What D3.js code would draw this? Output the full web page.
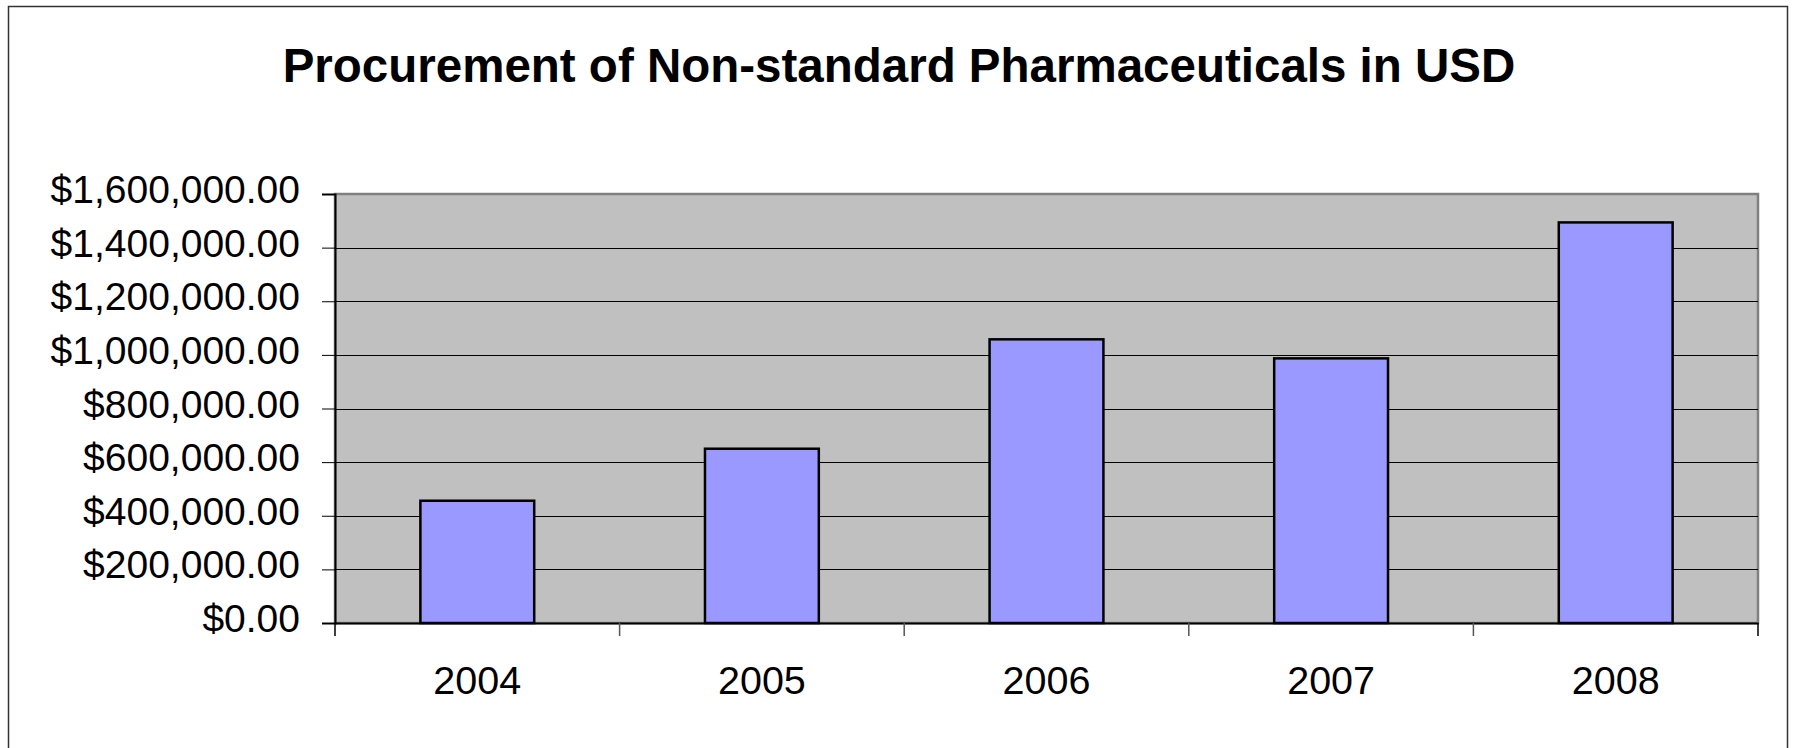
<!DOCTYPE html>
<html>
<head>
<meta charset="utf-8">
<title>Procurement of Non-standard Pharmaceuticals in USD</title>
<script src="https://d3js.org/d3.v7.min.js"></script>
<style>
body { margin: 0; background: #fff; }
text { font-family: "Liberation Sans", Arial, sans-serif; fill: #000; }
.axis text { font-size: 39px; }
.axis--x text { font-size: 39.5px; }
</style>
</head>
<body>
<svg width="1795" height="748"></svg>
<script>
var years = ["2004", "2005", "2006", "2007", "2008"];
var amounts = [456000, 650000, 1058000, 987000, 1494000];
var yTicks = [0, 200000, 400000, 600000, 800000, 1000000, 1200000, 1400000, 1600000];

var svg = d3.select("svg"),
    plot = {left: 335, top: 194, right: 1758, bottom: 623};

// chart frame
svg.append("rect")
    .attr("x", 8.5).attr("y", 6.5)
    .attr("width", 1779).attr("height", 760)
    .attr("fill", "#fff").attr("stroke", "#333").attr("stroke-width", 1.5);

svg.append("text")
    .attr("x", 899).attr("y", 82)
    .attr("text-anchor", "middle")
    .style("font-size", "47.5px").style("font-weight", "bold")
    .text("Procurement of Non-standard Pharmaceuticals in USD");

var x = d3.scaleBand()
    .domain(years)
    .range([plot.left, plot.right])
    .paddingInner(0.6)
    .paddingOuter(0.3);

var y = d3.scaleLinear()
    .domain([0, 1600000])
    .range([plot.bottom, plot.top]);

var fmt = d3.format("$,.2f");

// plot area background with grey top/right edge
svg.append("rect")
    .attr("x", plot.left).attr("y", plot.top)
    .attr("width", plot.right - plot.left).attr("height", plot.bottom - plot.top)
    .attr("fill", "#c0c0c0").attr("stroke", "#808080").attr("stroke-width", 2.5);

// gridlines
svg.append("g")
  .selectAll("line").data(yTicks.slice(1, -1)).enter().append("line")
    .attr("x1", plot.left).attr("x2", plot.right)
    .attr("y1", function(d) { return Math.round(y(d)) + 0.5; })
    .attr("y2", function(d) { return Math.round(y(d)) + 0.5; })
    .attr("stroke", "#000").attr("stroke-width", 1);

// bars
svg.append("g")
  .selectAll("rect").data(years).enter().append("rect")
    .attr("x", function(d) { return x(d); })
    .attr("y", function(d, i) { return y(amounts[i]); })
    .attr("width", x.bandwidth())
    .attr("height", function(d, i) { return plot.bottom - y(amounts[i]); })
    .attr("fill", "#9999ff")
    .attr("stroke", "#000").attr("stroke-width", 2.5);

// y axis
var yAxis = svg.append("g")
    .attr("class", "axis axis--y")
    .attr("transform", "translate(" + plot.left + ",0)")
    .call(d3.axisLeft(y).tickValues(yTicks).tickFormat(fmt).tickSize(13).tickPadding(22));
yAxis.select(".domain").attr("stroke", "#000").attr("stroke-width", 2);
yAxis.selectAll(".tick line").attr("stroke", "#000");
yAxis.selectAll(".tick text").attr("dy", "0.22em");

// x axis, ticks sit at the category boundaries
var xAxis = svg.append("g")
    .attr("class", "axis axis--x")
    .attr("transform", "translate(0," + plot.bottom + ")")
    .call(d3.axisBottom(x).tickSize(0).tickPadding(43));
xAxis.select(".domain").attr("stroke", "#000").attr("stroke-width", 2);

var bounds = d3.range(years.length + 1).map(function(i) {
  return plot.left + i * (plot.right - plot.left) / years.length;
});
xAxis.selectAll(".bound").data(bounds).enter().append("line")
    .attr("class", "bound")
    .attr("x1", function(d) { return d; }).attr("x2", function(d) { return d; })
    .attr("y1", 0).attr("y2", 13)
    .attr("stroke", function(d, i) { return i === 0 || i === years.length ? "#000" : "#555"; })
    .attr("stroke-width", 1.5);
</script>
</body>
</html>
